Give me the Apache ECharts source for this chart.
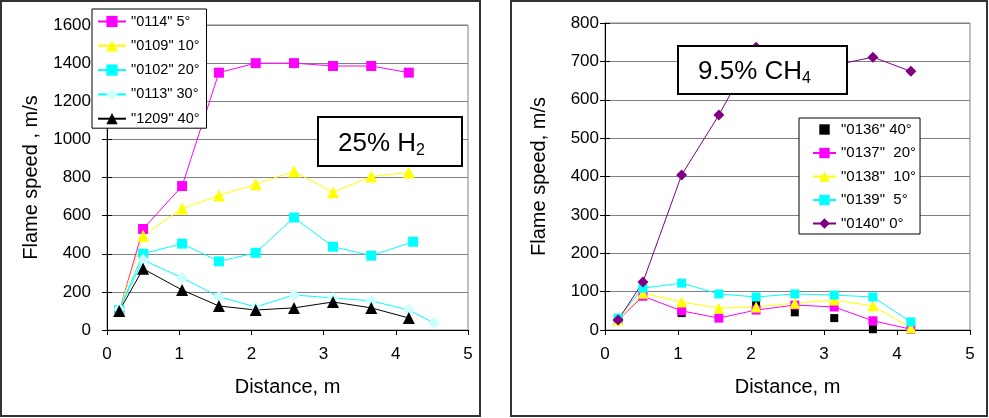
<!DOCTYPE html>
<html>
<head>
<meta charset="utf-8">
<script src="https://cdn.jsdelivr.net/npm/echarts@6/dist/echarts.min.js"></script>
<style>
html,body{margin:0;padding:0;background:#fff;}
#c{width:989px;height:418px;}
</style>
</head>
<body>
<div id="c"></div>
<script>
// ---- Data ----
var xL = [0.17, 0.5, 1.04, 1.55, 2.06, 2.59, 3.13, 3.66, 4.18];
var x0102 = [0.17, 0.5, 1.04, 1.55, 2.06, 2.59, 3.13, 3.66, 4.24];
var x0113 = [0.17, 0.5, 1.04, 1.55, 2.06, 2.59, 3.13, 3.66, 4.18, 4.53];
var s0114 = [100, 530, 755, 1350, 1400, 1400, 1385, 1385, 1350];
var s0109 = [100, 495, 637, 705, 765, 832, 722, 805, 826];
var s0102 = [105, 400, 453, 360, 405, 590, 437, 390, 463];
var s0113 = [110, 368, 274, 174, 121, 184, 168, 153, 105, 37];
var s1209 = [100, 321, 210, 126, 105, 116, 147, 116, 63];

var xR = [0.18, 0.52, 1.05, 1.56, 2.07, 2.6, 3.14, 3.67, 4.19];
var x0136 = [1.05, 2.07, 2.6, 3.14, 3.67];
var s0136 = [44, 73, 46, 31, 2];
var s0137 = [26, 88, 50, 31, 52, 65, 60, 24, 2];
var s0138 = [26, 96, 73, 57, 60, 70, 78, 63, 6];
var s0139 = [31, 109, 122, 94, 86, 94, 91, 86, 21];
var s0140 = [26, 125, 404, 560, 737, 710, 690, 711, 674];

var namesL = ['"0114" 5°', '"0109" 10°', '"0102" 20°', '"0113" 30°', '"1209" 40°'];
var namesR = ['"0136" 40°', '"0137"  20°', '"0138"  10°', '"0139"  5°', '"0140" 0°'];

var FONT = '"Liberation Sans", Arial, Helvetica, sans-serif';

function zip(xs, ys) { return ys.map(function (y, i) { return [xs[i], y]; }); }
function plain(v) { return String(v); }

function xAxes(grid) {
  return [{
    gridIndex: grid, type: 'value', min: 0, max: 5, interval: 1, position: 'bottom',
    name: 'Distance, m', nameLocation: 'middle', nameGap: 47,
    nameTextStyle: { fontSize: 20, color: '#000', fontFamily: FONT },
    axisLine: { show: true, onZero: false, lineStyle: { color: '#000', width: 1 } },
    axisTick: { show: true, length: 5, lineStyle: { color: '#000' } },
    axisLabel: { fontSize: 17, color: '#000', fontFamily: FONT, margin: 16, formatter: plain },
    splitLine: { show: false }
  }];
}
function yAxes(grid, max, interval, name, nameGap, margin) {
  var base = { gridIndex: grid, type: 'value', min: 0, max: max, interval: interval, position: 'left' };
  return [
    Object.assign({}, base, {
      name: name, nameLocation: 'middle', nameGap: nameGap,
      nameTextStyle: { fontSize: 20, color: '#000', fontFamily: FONT },
      axisLine: { show: true, onZero: false, lineStyle: { color: '#000', width: 1 } },
      axisTick: { show: true, length: 5, lineStyle: { color: '#000' } },
      axisLabel: { fontSize: 17, color: '#000', fontFamily: FONT, margin: margin, formatter: plain },
      splitLine: { show: true, lineStyle: { color: '#808080', width: 1 } }
    }),
    Object.assign({}, base, {
      axisLine: { show: false },
      axisTick: { show: true, inside: true, length: 5, lineStyle: { color: '#000' } },
      axisLabel: { show: false },
      splitLine: { show: false }
    })
  ];
}

function lineSeries(name, data, xi, yi, color, symbol, size, symColor, noLine) {
  return {
    name: name, type: 'line', xAxisIndex: xi, yAxisIndex: yi, data: data,
    symbol: symbol, symbolSize: size, showAllSymbol: true,
    lineStyle: { color: color, width: noLine ? 0 : 1, opacity: noLine ? 0 : 1 },
    itemStyle: { color: symColor || color, borderWidth: 0 },
    emphasis: { disabled: true }, animation: false
  };
}

var chart = echarts.init(document.getElementById('c'), null, { renderer: 'canvas' });

var legendBase = {
  orient: 'vertical', backgroundColor: '#fff', borderColor: '#000', borderWidth: 1,
  borderRadius: 0, selectedMode: false
};

chart.setOption({
  animation: false,
  textStyle: { fontFamily: FONT },
  grid: [
    { left: 107, right: 521, top: 25, bottom: 88, show: true, borderColor: '#808080', borderWidth: 1, backgroundColor: 'transparent' },
    { left: 605, right: 19, top: 23, bottom: 88, show: true, borderColor: '#808080', borderWidth: 1, backgroundColor: 'transparent' }
  ],
  xAxis: xAxes(0).concat(xAxes(1)),
  yAxis: yAxes(0, 1600, 200, 'Flame speed , m/s', 66, 16).concat(yAxes(1, 800, 100, 'Flame speed, m/s', 56, 6)),
  legend: [
    Object.assign({}, legendBase, {
      data: namesL, left: 92, top: 9, padding: [5, 7, 2, 5], itemWidth: 28, itemHeight: 14, itemGap: 9.3,
      textStyle: { fontSize: 14.5, color: '#000', fontFamily: FONT }
    }),
    Object.assign({}, legendBase, {
      data: namesR, left: 799, top: 118, padding: [4, 4, 3, 13], itemWidth: 23, itemHeight: 13, itemGap: 8.5,
      textStyle: { fontSize: 15, color: '#000', fontFamily: FONT }
    })
  ],
  series: [
    lineSeries(namesL[0], zip(xL, s0114), 0, 0, '#FF00FF', 'rect', 10),
    lineSeries(namesL[1], zip(xL, s0109), 0, 0, '#FFFF00', 'triangle', 12),
    lineSeries(namesL[2], zip(x0102, s0102), 0, 0, '#00FFFF', 'rect', 10),
    lineSeries(namesL[3], zip(x0113, s0113), 0, 0, '#00FFFF', 'diamond', 12, '#CCFFFF'),
    lineSeries(namesL[4], zip(xL, s1209), 0, 0, '#000000', 'triangle', 12),
    lineSeries(namesR[0], zip(x0136, s0136), 1, 2, '#000000', 'rect', 8, '#000000', true),
    lineSeries(namesR[1], zip(xR, s0137), 1, 2, '#FF00FF', 'rect', 9),
    lineSeries(namesR[2], zip(xR, s0138), 1, 2, '#FFFF00', 'triangle', 11),
    lineSeries(namesR[3], zip(xR, s0139), 1, 2, '#00FFFF', 'rect', 9),
    lineSeries(namesR[4], zip(xR, s0140), 1, 2, '#800080', 'diamond', 11)
  ],
  graphic: [
    { type: 'rect', z: 50, shape: { x: 1, y: 1, width: 479, height: 415 }, style: { fill: null, stroke: '#333', lineWidth: 2 }, silent: true },
    { type: 'rect', z: 50, shape: { x: 511, y: 1, width: 476, height: 415 }, style: { fill: null, stroke: '#333', lineWidth: 2 }, silent: true },
    { type: 'rect', z: 100, shape: { x: 318, y: 117, width: 144, height: 49 }, style: { fill: '#fff', stroke: '#000', lineWidth: 2 }, silent: true },
    { type: 'text', z: 101, x: 338, y: 143.5, silent: true,
      style: { text: '{a|25% H}{b|2}', align: 'left', verticalAlign: 'middle', fill: '#000',
        rich: { a: { fontSize: 26, lineHeight: 30, fontFamily: FONT, fill: '#000' },
                b: { fontSize: 16, lineHeight: 16, fontFamily: FONT, fill: '#000', verticalAlign: 'bottom' } } } },
    { type: 'rect', z: 100, shape: { x: 678, y: 46, width: 169, height: 48 }, style: { fill: '#fff', stroke: '#000', lineWidth: 2 }, silent: true },
    { type: 'text', z: 101, x: 698, y: 71.5, silent: true,
      style: { text: '{a|9.5% CH}{b|4}', align: 'left', verticalAlign: 'middle', fill: '#000',
        rich: { a: { fontSize: 26, lineHeight: 30, fontFamily: FONT, fill: '#000' },
                b: { fontSize: 16, lineHeight: 16, fontFamily: FONT, fill: '#000', verticalAlign: 'bottom' } } } }
  ]
});
</script>
</body>
</html>
